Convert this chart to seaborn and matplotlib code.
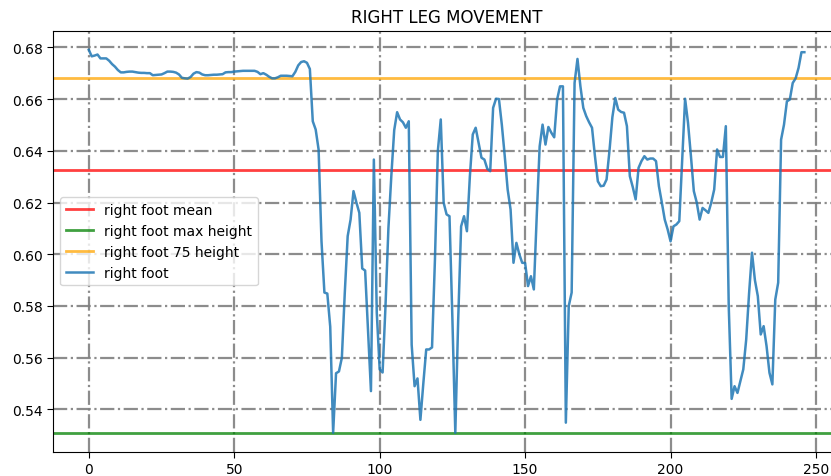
import numpy as np
import pandas as pd
import matplotlib
matplotlib.use("Agg")
import matplotlib.pyplot as plt
import seaborn as sns

# ---- data ----
right_foot = [
    0.6790, 0.6765, 0.6768, 0.6772, 0.6757, 0.6757, 0.6757, 0.6748, 0.6735, 0.6725,
    0.6712, 0.6703, 0.6703, 0.6705, 0.6706, 0.6706, 0.6704, 0.6702, 0.6701, 0.6701,
    0.6700, 0.6700, 0.6692, 0.6693, 0.6694, 0.6695, 0.6700, 0.6706, 0.6706, 0.6705,
    0.6702, 0.6695, 0.6682, 0.6680, 0.6679, 0.6685, 0.6698, 0.6704, 0.6702, 0.6695,
    0.6692, 0.6692, 0.6693, 0.6694, 0.6694, 0.6695, 0.6696, 0.6703, 0.6704, 0.6704,
    0.6706, 0.6707, 0.6708, 0.6709, 0.6709, 0.6709, 0.6709, 0.6709, 0.6705, 0.6696,
    0.6700, 0.6694, 0.6686, 0.6680, 0.6680, 0.6684, 0.6690, 0.6690, 0.6690, 0.6689,
    0.6688, 0.6705, 0.6730, 0.6743, 0.6746, 0.6740, 0.6716, 0.6514, 0.6482, 0.6405,
    0.6050, 0.5852, 0.5848, 0.5720, 0.5310, 0.5540, 0.5547, 0.5600, 0.5850, 0.6070,
    0.6134, 0.6244, 0.6200, 0.6160, 0.5945, 0.5937, 0.5700, 0.5471, 0.6366, 0.5775,
    0.5555, 0.5543, 0.5800, 0.6100, 0.6302, 0.6480, 0.6549, 0.6521, 0.6510, 0.6489,
    0.6514, 0.5650, 0.5490, 0.5520, 0.5360, 0.5500, 0.5632, 0.5632, 0.5640, 0.5980,
    0.6400, 0.6521, 0.6199, 0.6154, 0.6147, 0.5750, 0.5310, 0.5750, 0.6108, 0.6147,
    0.6089, 0.6300, 0.6463, 0.6489, 0.6430, 0.6373, 0.6366, 0.6330, 0.6321, 0.6566,
    0.6601, 0.6600, 0.6500, 0.6379, 0.6250, 0.6173, 0.5967, 0.6044, 0.6000, 0.5967,
    0.5966, 0.5877, 0.5915, 0.5864, 0.6150, 0.6417, 0.6501, 0.6424, 0.6492, 0.6470,
    0.6452, 0.6598, 0.6649, 0.6649, 0.5349, 0.5800, 0.5852, 0.6662, 0.6755, 0.6650,
    0.6566, 0.6534, 0.6510, 0.6489, 0.6380, 0.6282, 0.6263, 0.6265, 0.6289, 0.6400,
    0.6530, 0.6604, 0.6559, 0.6550, 0.6547, 0.6495, 0.6302, 0.6260, 0.6212, 0.6334,
    0.6360, 0.6379, 0.6366, 0.6370, 0.6370, 0.6360, 0.6263, 0.6200, 0.6134, 0.6096,
    0.6050, 0.6108, 0.6115, 0.6128, 0.6366, 0.6601, 0.6508, 0.6380, 0.6244, 0.6200,
    0.6134, 0.6179, 0.6170, 0.6160, 0.6200, 0.6250, 0.6405, 0.6376, 0.6376, 0.6495,
    0.5800, 0.5441, 0.5490, 0.5464, 0.5510, 0.5555, 0.5670, 0.5850, 0.6006, 0.5900,
    0.5838, 0.5690, 0.5722, 0.5645, 0.5542, 0.5497, 0.5825, 0.5890, 0.6443, 0.6501,
    0.6591, 0.6598, 0.6662, 0.6680, 0.6720, 0.6781, 0.6781,
]
frame_index = list(range(len(right_foot)))

foot_mean = 0.6327
foot_max_height = 0.5310
foot_75_height = 0.6680

title = "RIGHT LEG MOVEMENT"
labels = ["right foot mean", "right foot max height", "right foot 75 height", "right foot"]

df = pd.DataFrame({"frame": frame_index, "height": right_foot})

fig = plt.figure(figsize=(8.31, 4.77), dpi=100)
ax = fig.add_axes([0.0638, 0.0505, 0.9472, 0.8830])

ax.axhline(foot_mean, color="red", alpha=0.75, lw=2, label=labels[0])
ax.axhline(foot_max_height, color="green", alpha=0.75, lw=2, label=labels[1])
ax.axhline(foot_75_height, color="orange", alpha=0.75, lw=2, label=labels[2])
sns.lineplot(data=df, x="frame", y="height", ax=ax, color="tab:blue", alpha=0.85,
             lw=1.8, label=labels[3])

ax.set_xlabel("")
ax.set_ylabel("")
ax.set_title(title, fontsize=12, pad=6)
ax.grid(True, color="gray", linestyle="-.", linewidth=1.6, alpha=0.9)
ax.set_axisbelow(True)
ax.tick_params(direction="out", length=4, labelsize=10)
ax.legend(loc="center left", fontsize=10, framealpha=0.8)

fig.savefig("out.png", dpi=100)
